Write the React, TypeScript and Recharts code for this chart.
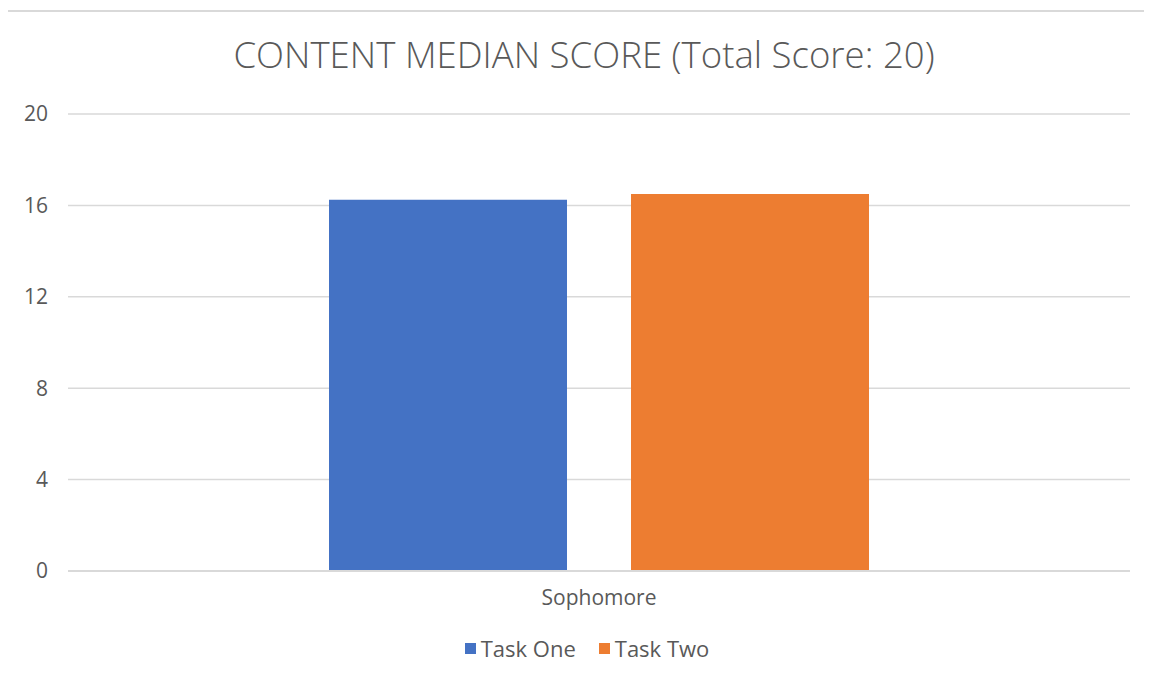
import { BarChart, Bar, XAxis, YAxis, CartesianGrid, Legend } from 'recharts';

const categories = ['Sophomore'];
const taskOne = [16.25];
const taskTwo = [16.5];
const yTicks = [0, 4, 8, 12, 16, 20];
const seriesNames = ['Task One', 'Task Two'];
const seriesColors = ['#4472C4', '#ED7D31'];

const FONT = '"Open Sans", "Noto Sans", sans-serif';
const TEXT = '#595959';
const GRID = '#d9d9d9';

const chartData = categories.map((c, i) => ({
  name: c,
  taskOne: taskOne[i],
  taskTwo: taskTwo[i],
}));

function LegendContent() {
  return (
    <div
      style={{
        display: 'flex',
        justifyContent: 'center',
        alignItems: 'center',
        fontFamily: FONT,
        fontSize: 22,
        color: TEXT,
        paddingLeft: 10,
      }}
    >
      {seriesNames.map((n, i) => (
        <div key={n} style={{ display: 'flex', alignItems: 'center', marginRight: i === 0 ? 23 : 0 }}>
          <span style={{ display: 'inline-block', width: 11, height: 11, background: seriesColors[i], marginRight: 5 }} />
          <span>{n}</span>
        </div>
      ))}
    </div>
  );
}

export default function App() {
  return (
    <div
      style={{
        position: 'relative',
        marginLeft: -2,
        marginTop: 2,
        width: 1150,
        height: 670,
        borderLeft: `2px solid ${GRID}`,
        borderTop: `2px solid ${GRID}`,
        background: '#fff',
      }}
    >
      <div
        style={{
          position: 'absolute',
          top: 24,
          left: 0,
          width: 1148,
          paddingLeft: 4,
          boxSizing: 'border-box',
          textAlign: 'center',
          fontFamily: FONT,
          fontWeight: 300,
          fontSize: 36.6,
          lineHeight: '37px',
          color: TEXT,
          whiteSpace: 'nowrap',
        }}
      >
        CONTENT MEDIAN SCORE (Total Score: 20)
      </div>
      <BarChart
        width={1148}
        height={670}
        data={chartData}
        margin={{ top: 102, right: 26, left: 10, bottom: 71 }}
        barSize={238}
        barGap={64}
      >
        <CartesianGrid vertical={false} stroke={GRID} strokeWidth={1.5} />
        <XAxis
          dataKey="name"
          axisLine={{ stroke: GRID, strokeWidth: 2 }}
          tickLine={false}
          tickSize={6}
          tickMargin={13}
          height={40}
          tick={{ fill: TEXT, fontSize: 21, fontFamily: FONT }}
        />
        <YAxis
          domain={[0, 20]}
          ticks={yTicks}
          axisLine={false}
          tickLine={false}
          tickSize={6}
          tickMargin={14}
          width={50}
          tick={{ fill: TEXT, fontSize: 21, fontFamily: FONT }}
        />
        <Legend
          layout="horizontal"
          verticalAlign="middle"
          align="center"
          content={<LegendContent />}
          wrapperStyle={{ top: 621, left: 0, width: 1148, bottom: 'auto' }}
        />
        <Bar dataKey="taskOne" name={seriesNames[0]} fill={seriesColors[0]} isAnimationActive={false} />
        <Bar dataKey="taskTwo" name={seriesNames[1]} fill={seriesColors[1]} isAnimationActive={false} />
      </BarChart>
    </div>
  );
}
